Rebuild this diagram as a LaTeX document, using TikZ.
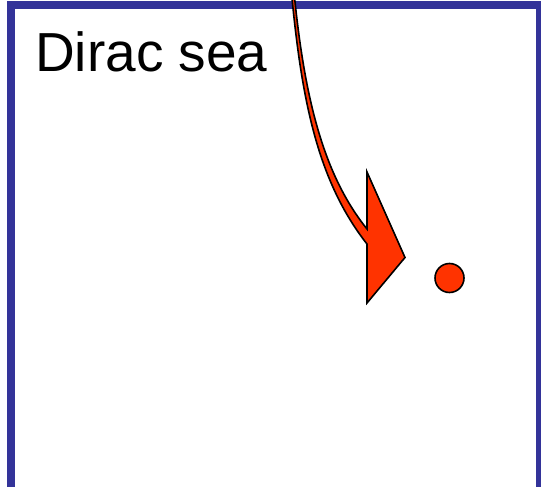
\documentclass[tikz,border=0pt]{standalone}
\usepackage{fontspec}
\setsansfont{Liberation Sans}
\definecolor{seablue}{HTML}{333399}
\definecolor{holered}{HTML}{FF3300}

\begin{document}
\begin{tikzpicture}[x=1pt, y=-1pt, every node/.style={font=\sffamily}, line join=miter]
	\useasboundingbox (0,0) rectangle (541,487);
	\clip (0,0) rectangle (541,487);
	% the sea box, open at the bottom
	\draw[seablue, line width=8pt] (11,600) -- (11,5.5) -- (539.5,5.5) -- (539.5,600);
	\node[anchor=base west, inner sep=0pt, font=\sffamily\fontsize{55}{60}\selectfont] (sea) at (35,72) {Dirac sea};
	\node[circle, draw=black, fill=holered, line width=1.6pt, minimum size=29pt, inner sep=0pt] (hole) at (449.5,278) {};
	% curved arrow coming in from above
	\coordinate (tip) at (405,257.5);
	\coordinate (headtop) at (367,172);
	\coordinate (headbot) at (367,303);
	\draw[fill=holered, line width=1.6pt] (293.8,-10) .. controls (304.5,100) and (324,175.5) .. (367,229)
		-- (headtop) -- (tip) -- (headbot) -- (367,244)
		.. controls (317.5,181) and (301.5,100) .. (291.2,-10) -- cycle;
\end{tikzpicture}
\end{document}
